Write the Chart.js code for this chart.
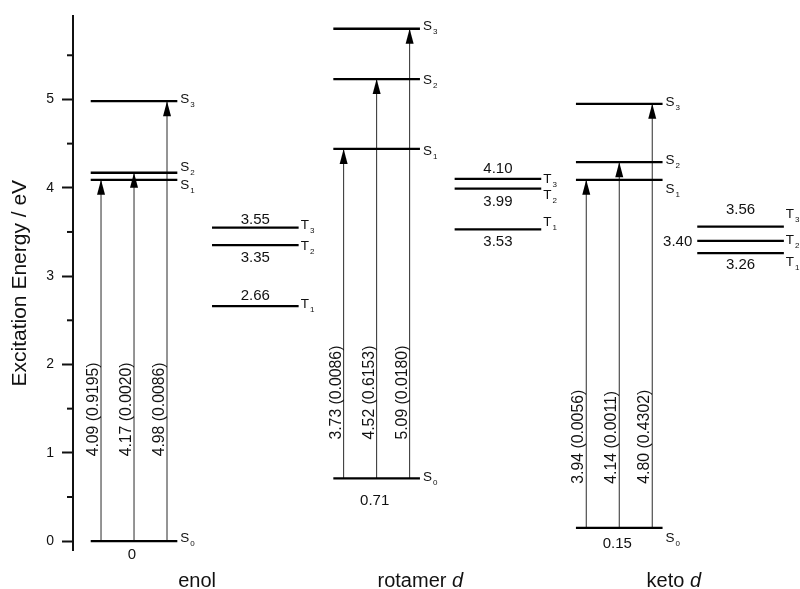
<!DOCTYPE html>
<html>
<head>
<meta charset="utf-8">
<script src="https://cdn.jsdelivr.net/npm/chart.js@4.4.1/dist/chart.umd.min.js"></script>
<style>
  html, body { margin: 0; padding: 0; background: #fff; }
  #wrap { width: 800px; height: 589px; }
</style>
</head>
<body>
<div id="wrap"><canvas id="chart"></canvas></div>
<script>
// Molecules (the italic suffix is drawn separately)
const molecules = ['enol', 'rotamer', 'keto'];
const moleculeSuffix = ['', 'd', 'd'];
// Ground-state energies relative to the enol form (eV)
const groundEnergy = [0, 0.71, 0.15];
// Vertical S0 -> S1 / S2 / S3 excitation energies (eV)
const excitationEnergy = [
  [4.09, 4.17, 4.98],
  [3.73, 4.52, 5.09],
  [3.94, 4.14, 4.80]
];
// Oscillator strengths of those transitions
const oscillatorStrength = [
  [0.9195, 0.0020, 0.0086],
  [0.0086, 0.6153, 0.0180],
  [0.0056, 0.0011, 0.4302]
];
// Triplet energies T1 / T2 / T3 (eV)
const tripletEnergy = [
  [2.66, 3.35, 3.55],
  [3.53, 3.99, 4.10],
  [3.26, 3.40, 3.56]
];
// Labelled ticks on the energy axis
const yTickValues = [0, 1, 2, 3, 4, 5];

// ---- layout -------------------------------------------------------------
const FONT = '"Liberation Sans", Arial, Helvetica, sans-serif';
const INK = '#111';
const singletColumn = [1, 3, 5];
const tripletColumn = [2, 4, 6];
const HALF_WIDTH = 0.357;
const ARROW_DX = [-0.272, 0, 0.272];
// horizontal position (x units) of each molecule name
const nameColumn = [1.52, 3.36, 5.45];
// energy (eV) at which each group's rotated transition labels start
const arrowLabelStart = [0.96, 1.15, 0.65];
// baseline offsets (px) of the state names S0..S3 and T1..T3
const singletNameDy = [[1, 9, -2, 2], [3, 6, 5, 1], [14, 13, 2, 2]];
const tripletNameDy = [[2, 5, 1], [-3, 10, 4], [13, 3, -9]];
// baseline offsets (px) of the triplet energy values; 'left' puts it beside the line
const tripletValueDy = [[-6, 17, -4], [17, 17, -6], [16, 5, -13]];
const tripletValueSide = [['c', 'c', 'c'], ['c', 'c', 'c'], ['c', 'left', 'c']];
const groundValueDy = [18, 27, 20];

// ---- derived energies ---------------------------------------------------
const singletEnergy = groundEnergy.map((g, i) =>
  [g].concat(excitationEnergy[i].map(e => +(g + e).toFixed(2))));

// ---- datasets -----------------------------------------------------------
const datasets = [];
molecules.forEach((m, i) => {
  const cs = singletColumn[i], ct = tripletColumn[i];
  singletEnergy[i].forEach(E => datasets.push({
    kind: 'level',
    data: [{ x: cs - HALF_WIDTH, y: E }, { x: cs + HALF_WIDTH, y: E }],
    borderColor: '#000', borderWidth: 2.3, pointRadius: 0
  }));
  tripletEnergy[i].forEach(E => datasets.push({
    kind: 'level',
    data: [{ x: ct - HALF_WIDTH, y: E }, { x: ct + HALF_WIDTH, y: E }],
    borderColor: '#000', borderWidth: 2.3, pointRadius: 0
  }));
  excitationEnergy[i].forEach((e, k) => datasets.push({
    kind: 'arrow',
    data: [{ x: cs + ARROW_DX[k], y: groundEnergy[i] },
           { x: cs + ARROW_DX[k], y: groundEnergy[i] + e }],
    borderColor: '#2b2b2b', borderWidth: 1, pointRadius: 0
  }));
});

function setFont(ctx, size, style) {
  ctx.font = (style || '') + ' ' + size + 'px ' + FONT;
}

// state name with subscript, e.g. S + small "1"
function drawStateName(ctx, letter, index, x, y) {
  ctx.textAlign = 'left';
  ctx.textBaseline = 'alphabetic';
  setFont(ctx, 13.5);
  ctx.fillText(letter, x, y);
  const w = ctx.measureText(letter).width;
  setFont(ctx, 8);
  ctx.fillText(String(index), x + w + 1, y + 4);
}

const diagramPlugin = {
  id: 'diagram',
  afterDatasetsDraw(chart) {
    const ctx = chart.ctx;
    ctx.save();
    ctx.fillStyle = '#000';
    chart.data.datasets.forEach((ds, di) => {
      if (ds.kind !== 'arrow') return;
      const tip = chart.getDatasetMeta(di).data[1];
      ctx.beginPath();
      ctx.moveTo(tip.x, tip.y);
      ctx.lineTo(tip.x - 4, tip.y + 15);
      ctx.lineTo(tip.x + 4, tip.y + 15);
      ctx.closePath();
      ctx.fill();
    });
    ctx.restore();
  },
  afterDraw(chart) {
    const ctx = chart.ctx;
    const xs = chart.scales.x, ys = chart.scales.y;
    ctx.save();
    ctx.fillStyle = INK;

    // minor ticks halfway between labelled ones
    ctx.strokeStyle = '#111';
    ctx.lineWidth = 2;
    yTickValues.forEach(v => {
      const yy = ys.getPixelForValue(v + 0.5);
      ctx.beginPath();
      ctx.moveTo(chart.chartArea.left - 6, yy);
      ctx.lineTo(chart.chartArea.left, yy);
      ctx.stroke();
    });

    molecules.forEach((m, i) => {
      const cs = singletColumn[i], ct = tripletColumn[i];
      const sRight = xs.getPixelForValue(cs + HALF_WIDTH);
      const tRight = xs.getPixelForValue(ct + HALF_WIDTH);
      const tLeft = xs.getPixelForValue(ct - HALF_WIDTH);
      const tMid = xs.getPixelForValue(ct);

      // singlet names
      singletEnergy[i].forEach((E, k) => {
        drawStateName(ctx, 'S', k, sRight + 3, ys.getPixelForValue(E) + singletNameDy[i][k]);
      });
      // triplet names and values
      tripletEnergy[i].forEach((E, k) => {
        const py = ys.getPixelForValue(E);
        drawStateName(ctx, 'T', k + 1, tRight + 2, py + tripletNameDy[i][k]);
        setFont(ctx, 15);
        ctx.textBaseline = 'alphabetic';
        if (tripletValueSide[i][k] === 'left') {
          ctx.textAlign = 'right';
          ctx.fillText(E.toFixed(2), tLeft - 5, py + tripletValueDy[i][k]);
        } else {
          ctx.textAlign = 'center';
          ctx.fillText(E.toFixed(2), tMid, py + tripletValueDy[i][k]);
        }
      });

      // ground-state value under S0
      setFont(ctx, 15);
      ctx.textAlign = 'center';
      ctx.textBaseline = 'alphabetic';
      const g = groundEnergy[i];
      ctx.fillText(g === 0 ? '0' : g.toFixed(2),
        xs.getPixelForValue(cs) - 2, ys.getPixelForValue(g) + groundValueDy[i]);

      // rotated transition labels: energy (oscillator strength)
      excitationEnergy[i].forEach((e, k) => {
        const ax = xs.getPixelForValue(cs + ARROW_DX[k]);
        const ay = ys.getPixelForValue(arrowLabelStart[i]);
        ctx.save();
        ctx.translate(ax - 3, ay);
        ctx.rotate(-Math.PI / 2);
        setFont(ctx, 15.8);
        ctx.textAlign = 'left';
        ctx.textBaseline = 'alphabetic';
        ctx.fillText(e.toFixed(2) + ' (' + oscillatorStrength[i][k].toFixed(4) + ')', 0, 0);
        ctx.restore();
      });

      // molecule name below the group
      const cx = xs.getPixelForValue(nameColumn[i]);
      setFont(ctx, 20);
      const w1 = ctx.measureText(m + (moleculeSuffix[i] ? ' ' : '')).width;
      setFont(ctx, 20, 'italic');
      const w2 = moleculeSuffix[i] ? ctx.measureText(moleculeSuffix[i]).width : 0;
      const x0 = cx - (w1 + w2) / 2;
      ctx.textAlign = 'left';
      ctx.textBaseline = 'alphabetic';
      setFont(ctx, 20);
      ctx.fillText(m, x0, 587);
      if (moleculeSuffix[i]) {
        setFont(ctx, 20, 'italic');
        ctx.fillText(moleculeSuffix[i], x0 + w1, 587);
      }
    });
    ctx.restore();
  }
};

const yTickPositions = yTickValues.flatMap(v => [v, v + 0.5]);

new Chart(document.getElementById('chart'), {
  type: 'scatter',
  data: { datasets },
  options: {
    responsive: true,
    maintainAspectRatio: false,
    animation: false,
    events: [],
    showLine: true,
    layout: { padding: { top: 15, bottom: 39, left: 0, right: 0 } },
    plugins: { legend: { display: false }, tooltip: { enabled: false } },
    scales: {
      x: { type: 'linear', min: 0.497, max: 6.49, display: false },
      y: {
        type: 'linear',
        position: 'left',
        min: -0.1,
        max: 5.94,
        afterBuildTicks: s => { s.ticks = yTickPositions.map(v => ({ value: v })); },
        afterFit: s => { s.width = 73; },
        ticks: {
          autoSkip: false,
          padding: 8,
          color: INK,
          font: { family: FONT, size: 14 },
          callback: v => (yTickValues.includes(v) ? String(v) : '')
        },
        grid: {
          drawOnChartArea: false,
          drawTicks: true,
          tickLength: 11,
          tickWidth: 2,
          tickColor: c => (c.tick && yTickValues.includes(c.tick.value) ? '#111' : 'rgba(0,0,0,0)')
        },
        border: { display: true, color: '#111', width: 2 },
        title: {
          display: true,
          text: 'Excitation Energy / eV',
          color: INK,
          font: { family: FONT, size: 21 },
          padding: { top: 8, bottom: 0 }
        }
      }
    }
  },
  plugins: [diagramPlugin]
});
</script>
</body>
</html>
